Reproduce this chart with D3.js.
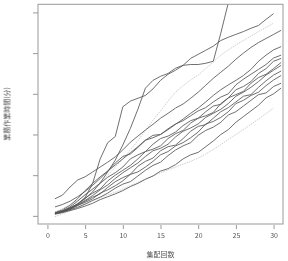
<!DOCTYPE html>
<html><head><meta charset="utf-8">
<script src="https://cdn.jsdelivr.net/npm/d3@7"></script>
<style>html,body{margin:0;padding:0;background:#fff;}svg{display:block;}text{will-change:transform;}</style>
</head><body>
<svg id="c" width="288" height="261"></svg>
<script>
const xValues = [1,2,3,4,5,6,7,8,9,10,11,12,13,14,15,16,17,18,19,20,21,22,23,24,25,26,27,28,29,30,31];
const xTicks = [0,5,10,15,20,25,30];
const yTicks = [0,100,200,300,400,500];
const xTitle = "集配回数";
const yTitle = "業務作業時間(分)";

const seriesT = [7,10,16,28,45,80,140,180,195,268,282,289,296,312,333,348,358,370,387,397,407,417,431,439,446,453,461,468,483,497];
const seriesS = [7,12,20,29,42,59,81,108,137,174,215,262,314,333,343,350,363,370,372,372,375,380,449,524,560,590,620,650,680,710,740];
const seriesU = [42,51,71,88,96,108,120,132,145,162,181,196,211,225,240,252,265,275,289,304,321,338,353,368,385,400,414,426,436,446,456];
const seriesV = [22,28,36,47,60,75,92,110,125,140,155,170,186,198,200,212,225,238,252,265,280,296,310,322,333,345,360,380,395,408,416];
const seriesC1 = [8,15,26,42,62,80,96,110,130,146,152,168,186,192,200,214,226,234,246,258,266,280,292,300,322,336,348,360,372,388,395];
const seriesC2 = [6,12,22,36,52,66,80,95,106,120,140,150,158,176,190,196,206,222,234,240,256,270,274,290,310,318,330,350,362,380,387];
const seriesC3 = [7,12,19,30,44,56,66,86,100,112,124,140,158,164,172,190,202,210,228,240,246,254,276,290,298,306,326,340,348,362,377];
const seriesC4 = [5,10,18,27,38,50,64,76,92,106,118,130,146,160,166,176,194,208,216,226,242,252,262,276,294,304,316,330,346,358,370];
const seriesC5 = [6,11,16,25,36,46,54,70,84,94,102,122,134,142,160,170,174,190,208,220,224,240,256,266,280,294,298,316,332,346,356];
const seriesC6 = [7,12,19,26,33,42,56,64,74,86,102,108,120,134,150,158,172,180,192,206,226,232,242,256,276,284,296,304,320,334,345];
const seriesC7 = [5,9,15,21,29,38,46,56,68,78,84,98,112,124,132,148,162,172,180,198,210,218,230,248,256,270,284,298,302,318,326];
const seriesC8 = [4,8,13,18,24,31,40,47,54,62,72,80,90,98,110,116,126,140,150,156,170,184,200,212,230,244,258,272,290,300,314];
const refUpper = [10,18,27,38,51,65,82,100,120,140,162,185,210,235,258,282,304,320,334,346,362,378,395,408,420,431,442,453,463,474];
const refLower = [-2,5,12,20,28,37,45,52,58,66,74,82,90,98,106,113,120,127,134,142,152,163,175,188,200,212,225,238,251,265];

const darkSeries = [seriesT, seriesS, seriesU, seriesV, seriesC1, seriesC2, seriesC3, seriesC4, seriesC5, seriesC6, seriesC7, seriesC8];
const lightSeries = [refUpper, refLower];

const L = 38, R = 283, T = 4.3, B = 224;
const svg = d3.select("#c");
const x = d3.scaleLinear().domain([-1.25, 31.25]).range([L, R]);
const y = d3.scaleLinear().domain([-20, 520]).range([B, T]);

svg.append("defs").append("clipPath").attr("id","clip")
  .append("rect").attr("x",L).attr("y",T).attr("width",R-L).attr("height",B-T);

const line = d3.line().x((d,i)=>x(xValues[i])).y(d=>y(d));
const g = svg.append("g").attr("clip-path","url(#clip)");

g.selectAll("path.ref").data(lightSeries).join("path")
  .attr("class","ref").attr("d", line)
  .attr("fill","none").attr("stroke","#c8c8c8").attr("stroke-width",0.9)
  .attr("stroke-dasharray","1.5,1");

g.selectAll("path.ser").data(darkSeries).join("path")
  .attr("class","ser").attr("d", line)
  .attr("fill","none").attr("stroke","#555").attr("stroke-width",0.85);

svg.append("rect").attr("x",L).attr("y",T).attr("width",R-L).attr("height",B-T)
  .attr("fill","none").attr("stroke","#999").attr("stroke-width",1);

const font = "'Noto Sans CJK JP', 'Noto Sans', sans-serif";

const ax = svg.append("g").attr("transform",`translate(0,${B+1})`)
  .call(d3.axisBottom(x).tickValues(xTicks).tickSize(4).tickPadding(4).tickSizeOuter(0));
ax.select(".domain").remove();
ax.selectAll("line").attr("stroke","#999");
ax.selectAll("text").attr("fill","#555").style("font-size","7px").style("font-family",font);

const ay = svg.append("g").attr("transform",`translate(${L},0)`)
  .call(d3.axisLeft(y).tickValues(yTicks).tickSize(5).tickFormat("").tickSizeOuter(0));
ay.select(".domain").remove();
ay.selectAll("line").attr("stroke","#999");

svg.append("text").attr("x",160.5).attr("y",257).attr("text-anchor","middle")
  .attr("fill","#555").style("font-size","7px").style("font-family",font).text(xTitle);
svg.append("text").attr("transform","translate(9.5,114) rotate(-90)").attr("text-anchor","middle")
  .attr("fill","#555").style("font-size","7px").style("font-family",font).text(yTitle);
</script>
</body></html>
